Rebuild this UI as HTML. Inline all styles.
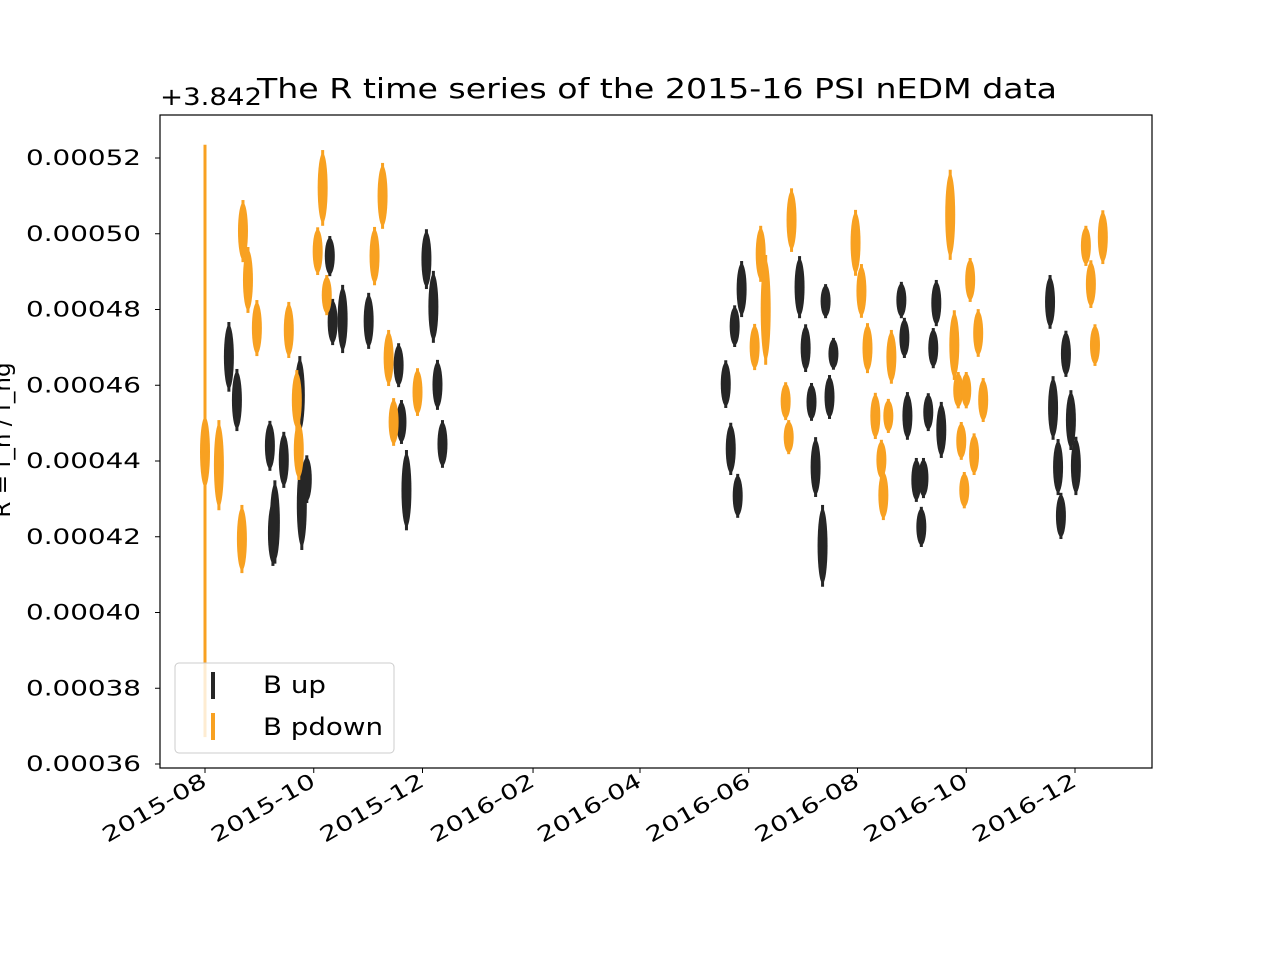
<!DOCTYPE html>
<html><head><meta charset="utf-8"><style>
body{margin:0;background:#fff;}
svg text{font-family:"DejaVu Sans","Liberation Sans",sans-serif;}
</style></head><body>
<svg id="chart" width="1280" height="960" xmlns="http://www.w3.org/2000/svg">
<rect width="1280" height="960" fill="#fff"/>
<text x="657" y="98" font-size="28" text-anchor="middle" textLength="800" lengthAdjust="spacingAndGlyphs">The R time series of the 2015-16 PSI nEDM data</text>
<text x="160" y="105" font-size="24" textLength="102" lengthAdjust="spacingAndGlyphs">+3.842</text>
<text transform="translate(10,440) rotate(-90)" font-size="23" text-anchor="middle">R = f_n / f_hg</text>
<g id="marks"></g>
<rect x="160" y="115" width="992" height="653" fill="none" stroke="#000" stroke-width="1.2"/>
<g id="axes"></g>
<g>
<rect x="175" y="663" width="219" height="90" rx="4" fill="#fff" fill-opacity="0.8" stroke="#ccc"/>
<rect x="211" y="672" width="4" height="27" fill="#262626"/>
<text x="263" y="693" font-size="24" textLength="63" lengthAdjust="spacingAndGlyphs">B up</text>
<rect x="211" y="713" width="4" height="27" fill="#f8a121"/>
<text x="263" y="735" font-size="24" textLength="120" lengthAdjust="spacingAndGlyphs">B pdown</text>
</g>
</svg>
<script>
// days since 2015-08-01, value in units of 1e-5 above 3.842, half error in 1e-5
const upDays=[13.4,17.9,36.4,44.2,39.2,38.1,53.2,54.3,57.1,70,71.6,77.2,91.8,108.6,110.2,113,124.2,128.1,130.4,133.2,301,297.1,292.1,294.9,298.8,333.5,336.9,348.1,352.5,340.2,350.3,342.5,346.4,390.6,392.3,410.2,408.5,394,405.7,413,399,403,401.8,474,482.9,475.7,478.5,485.7,488.5,480.1];
const upVals=[46.75,45.61,44.40,44.03,42.39,42.10,45.74,42.84,43.52,49.41,47.67,47.75,47.70,46.53,45.03,43.23,49.33,48.07,46.01,44.45,48.54,47.56,46.03,44.32,43.08,48.59,46.98,48.22,46.83,45.56,45.69,43.84,41.76,48.25,47.25,48.17,46.98,45.19,45.29,44.82,43.50,43.55,42.26,48.20,46.83,45.40,43.84,45.08,43.87,42.55];
const upErrs=[0.92,0.82,0.66,0.74,1.10,0.87,1.03,1.19,0.63,0.53,0.61,0.90,0.74,0.58,0.58,1.06,0.79,0.95,0.66,0.63,0.74,0.55,0.63,0.69,0.58,0.82,0.63,0.45,0.42,0.50,0.58,0.79,1.08,0.48,0.53,0.61,0.53,0.63,0.50,0.74,0.58,0.53,0.53,0.71,0.61,0.84,0.74,0.79,0.77,0.61];
const downDays=[0,0,7.8,21.3,24.1,29.1,20.7,47,51.5,52.6,66,63.2,68.3,99.6,95.1,103,105.8,119.2,329,311.7,314.5,308.3,325.7,327.4,364.9,368.2,371.6,385,376,383.3,379.4,380.5,418,420.3,429.2,433.7,422.5,427,436.5,424.2,431.4,425.9,503.6,494.1,496.9,499.2];
const downVals=[44.53,44.24,43.89,50.07,48.78,47.51,41.94,47.46,45.61,44.29,51.21,49.54,48.38,51.0,49.41,46.72,45.03,45.82,50.36,49.47,47.99,47.01,45.58,44.63,49.76,48.49,46.98,46.75,45.19,45.19,44.03,43.10,50.50,47.06,48.78,47.38,45.87,45.87,45.61,44.53,44.18,43.23,49.91,49.68,48.67,47.06];
const downErrs=[7.82,1.00,1.19,0.82,0.87,0.74,0.90,0.74,0.79,0.79,1.0,0.63,0.53,0.87,0.77,0.74,0.63,0.63,0.84,0.74,1.45,0.61,0.50,0.45,0.87,0.71,0.66,0.71,0.61,0.45,0.53,0.66,1.19,0.92,0.58,0.63,0.48,0.48,0.58,0.50,0.55,0.48,0.71,0.53,0.63,0.55];
const yTicks=[36,38,40,42,44,46,48,50,52];
const yTickLabels=["0.00036","0.00038","0.00040","0.00042","0.00044","0.00046","0.00048","0.00050","0.00052"];
const xTickDays=[0,61,122,184,244,305,366,427,488];
const xTickLabels=["2015-08","2015-10","2015-12","2016-02","2016-04","2016-06","2016-08","2016-10","2016-12"];

const NS="http://www.w3.org/2000/svg";
function xS(d){return 205+d*1.7828;}
function yS(v){return 158+(52-v)*37.875;}
function el(t,a,p){const e=document.createElementNS(NS,t);for(const k in a)e.setAttribute(k,a[k]);p.appendChild(e);return e;}
const marks=document.getElementById('marks'), axes=document.getElementById('axes');
function drawSeries(days,vals,errs,color,name){
  for(let i=0;i<days.length;i++){
    const x=xS(days[i]), y=yS(vals[i]), h=errs[i]*37.875;
    const g=el('g',{},marks);
    
    
    el('rect',{x:x-1.5,y:y-h,width:3,height:2*h,fill:color},g);
    if(h<=60){
      const ry=h*0.92;
      el('ellipse',{cx:x,cy:y,rx:Math.min(5,ry),ry:ry,fill:color},g);
    }
  }
}
drawSeries(upDays,upVals,upErrs,'#262626','b-up');
drawSeries(downDays,downVals,downErrs,'#f8a121','b-pdown');
yTicks.forEach((t,i)=>{
  const y=yS(t);
  const l=el('line',{x1:155,x2:160,y1:y,y2:y,stroke:'#000'},axes);
  
  
  const tx=el('text',{x:141,y:y+7,'font-size':'21','text-anchor':'end',textLength:'115',lengthAdjust:'spacingAndGlyphs'},axes);
  
  
  tx.textContent=yTickLabels[i];
});
xTickDays.forEach((d,i)=>{
  const x=xS(d);
  const l=el('line',{x1:x,x2:x,y1:768,y2:773,stroke:'#000'},axes);
  
  
  const tx=el('text',{transform:`translate(${x+3},${785}) rotate(-30)`,'font-size':'21','text-anchor':'end',textLength:'116',lengthAdjust:'spacingAndGlyphs'},axes);
  
  
  tx.textContent=xTickLabels[i];
});
</script>
</body></html>
